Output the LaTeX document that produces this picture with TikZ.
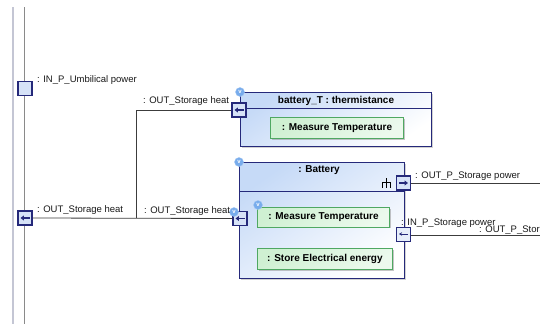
\documentclass[tikz,border=0pt]{standalone}
\usepackage{fontspec}
\setmainfont{Liberation Sans}
\usetikzlibrary{arrows.meta,shadows,calc}
\definecolor{navy}{HTML}{25297A}
\definecolor{boxblue}{HTML}{C6DAF7}
\definecolor{portfill}{HTML}{D6E2F7}
\definecolor{grn}{HTML}{4FA862}
\definecolor{grnfill}{HTML}{CFF0D2}
\definecolor{wire}{HTML}{3C3C3C}
\definecolor{vblue}{HTML}{78ACEC}
\definecolor{railA}{HTML}{C4C6D4}
\definecolor{railB}{HTML}{8A8A8A}
\tikzset{
  block/.style={draw=navy, line width=1.1pt, top color=boxblue, bottom color=white, shading angle=35,
    inner sep=0pt, anchor=north west, drop shadow={shadow xshift=1.2pt, shadow yshift=-1.2pt, opacity=0.35, fill=gray}},
  func/.style={draw=grn, line width=0.9pt, top color=grnfill, bottom color=grnfill!40!white, shading angle=35,
    inner sep=0pt, anchor=north west, font=\fontsize{10}{12}\selectfont\bfseries,
    drop shadow={shadow xshift=1.5pt, shadow yshift=-1.5pt, opacity=0.45, fill=gray}},
  ttl/.style={font=\fontsize{10}{12}\selectfont\bfseries, inner sep=0pt, anchor=base},
  lbl/.style={font=\fontsize{9.5}{11}\selectfont, inner sep=0pt, anchor=base west, text=black!90},
  port/.style={draw=navy, line width=1.4pt, fill=portfill, minimum size=14pt, inner sep=0pt},
  tport/.style={draw=navy, line width=0.7pt, fill=portfill!60!white, minimum size=14pt, inner sep=0pt},
  wireline/.style={draw=wire, line width=0.8pt},
  vmark/.style={circle, fill=vblue, draw=vblue!70!white, line width=0.4pt, minimum size=9pt, inner sep=0pt, text=white,
    font=\fontsize{6}{6}\selectfont\bfseries},
  parrow/.style={draw=navy, line width=1.4pt, -{Triangle[length=3.4pt,width=4.8pt]}},
  tarrow/.style={draw=navy, line width=0.7pt, -{Stealth[length=3pt,width=3.5pt]}},
}
\begin{document}
\begin{tikzpicture}[x=1pt,y=-1pt]
\clip (0,0) rectangle (540,324);
\fill[white] (0,0) rectangle (540,324);
% rails
\draw[railA, line width=2pt] (13,7) -- (13,324);
\draw[railB, line width=1.4pt] (24.6,7) -- (24.6,324);

% blocks
\node[block, minimum width=191pt, minimum height=54pt] (therm) at (240,92) {};
\draw[navy, line width=1pt] ($(therm.north west)+(0,16)$) -- ($(therm.north east)+(0,16)$);
\node[ttl] (thermT) at (336,103.5) {battery\_T : thermistance};
\node[func, minimum width=133pt, minimum height=21pt] (mt1) at (270,117) {: Measure Temperature};

\node[block, minimum width=165pt, minimum height=116pt] (batt) at (239,162) {};
\draw[navy, line width=1pt] ($(batt.north west)+(0,29)$) -- ($(batt.north east)+(0,29)$);
\node[ttl] (battT) at (319,172) {: Battery};
\node[func, minimum width=132pt, minimum height=19.5pt] (mt2) at (257,207) {: Measure Temperature};
\node[func, minimum width=135pt, minimum height=21pt] (se) at (257,248) {: Store Electrical energy};

% rake symbol
\draw[black, line width=0.8pt] (386,178) -- (386,187.5) (382,187.5) -- (382,182) -- (390,182) -- (390,187.5);

% ports
\node[port] (pU) at (25,88.5) {};
\node[port] (pL) at (25,218) {};
\node[port] (pT) at (239,110) {};
\node[port] (pB) at (240,218.5) {};
\node[port] (pO) at (403.5,183) {};
\node[tport] (pI) at (403.5,234) {};

\draw[parrow] ($(pL.center)+(4.5,0)$) -- ($(pL.center)+(-4.5,0)$);
\draw[parrow] ($(pT.center)+(4.5,0)$) -- ($(pT.center)+(-4.5,0)$);
\draw[parrow] ($(pB.center)+(4.5,0)$) -- ($(pB.center)+(-4.5,0)$);
\draw[parrow] ($(pO.center)+(-4.5,0)$) -- ($(pO.center)+(4.5,0)$);
\draw[tarrow] ($(pI.center)+(4.5,0)$) -- ($(pI.center)+(-4.5,0)$);

% connectors
\coordinate (j) at (136,218);
\coordinate (eO) at (545,183);
\coordinate (eI) at (545,235);
\draw[wireline] (pL.east) -- (pB.west);
\draw[wireline] (pT.west) -| (j);
\draw[wireline] (pO.east) -- (eO);
\draw[wireline] (pI.east |- eI) -- (eI);

% v marks
\node[vmark] (v1) at (240,92) {v};
\node[vmark] (v2) at (239,162) {v};
\node[vmark] (v3) at (234,212) {v};
\node[vmark] (v4) at (258,205) {v};

% labels
\node[lbl] (l1) at (37,82.5) {: IN\_P\_Umbilical power};
\node[lbl] (l2) at (37,212.5) {: OUT\_Storage heat};
\node[lbl] (l3) at (143,103.5) {: OUT\_Storage heat};
\node[lbl] (l4) at (144,213) {: OUT\_Storage heat};
\node[lbl] (l5) at (415,178.5) {: OUT\_P\_Storage power};
\node[lbl] (l6) at (401,225.5) {: IN\_P\_Storage power};
\node[lbl] (l7) at (479,232.5) {: OUT\_P\_Storage power};
\end{tikzpicture}
\end{document}
